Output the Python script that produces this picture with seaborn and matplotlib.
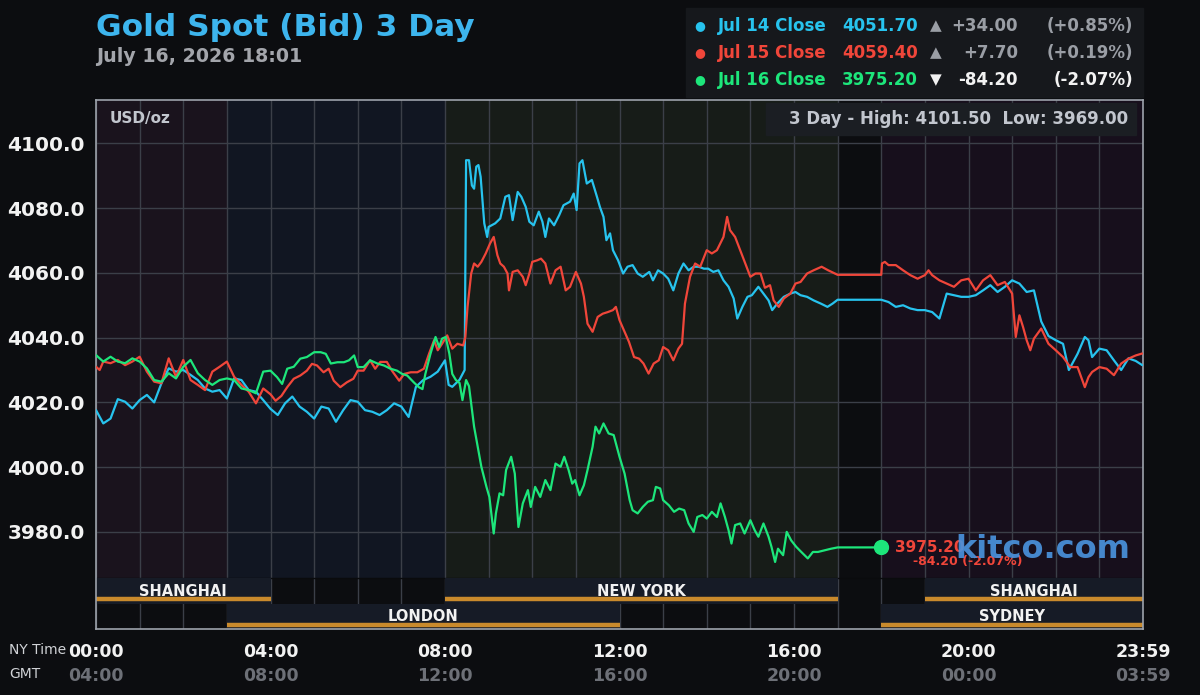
import pandas as pd
import matplotlib.pyplot as plt
import seaborn as sns
from matplotlib.patches import Rectangle
from matplotlib.transforms import blended_transform_factory

# ---- data (NY time, USD/oz) ----
jul14_times = ['00:00', '00:10', '00:20', '00:30', '00:40', '00:50', '01:00', '01:10', '01:20', '01:30',
               '01:40', '01:50', '02:00', '02:10', '02:20', '02:30', '02:40', '02:50', '03:00', '03:10',
               '03:20', '03:30', '03:40', '03:50', '04:00', '04:10', '04:20', '04:30', '04:40', '04:50',
               '05:00', '05:10', '05:20', '05:30', '05:40', '05:50', '06:00', '06:10', '06:20', '06:30',
               '06:40', '06:50', '07:00', '07:10', '07:20', '07:30', '07:40', '07:50', '08:00', '08:05',
               '08:10', '08:20', '08:27', '08:29', '08:33', '08:37', '08:40', '08:43', '08:46', '08:49',
               '08:54', '08:58', '09:00', '09:09', '09:16', '09:23', '09:28', '09:33', '09:40', '09:45',
               '09:51', '09:56', '10:02', '10:09', '10:14', '10:18', '10:23', '10:30', '10:37', '10:43',
               '10:52', '10:57', '11:01', '11:05', '11:09', '11:15', '11:22', '11:29', '11:33', '11:38',
               '11:42', '11:47', '11:51', '11:58', '12:05', '12:11', '12:18', '12:25', '12:32', '12:41',
               '12:46', '12:53', '13:00', '13:07', '13:14', '13:21', '13:28', '13:35', '13:42', '13:49',
               '13:56', '14:02', '14:09', '14:16', '14:23', '14:30', '14:37', '14:42', '14:49', '14:56',
               '15:02', '15:11', '15:18', '15:25', '15:30', '15:37', '15:46', '15:55', '16:02', '16:09',
               '16:18', '16:27', '16:37', '16:46', '16:53', '17:00', '18:00', '18:10', '18:20', '18:30',
               '18:40', '18:50', '19:00', '19:10', '19:20', '19:30', '19:40', '19:50', '20:00', '20:10',
               '20:20', '20:30', '20:40', '20:50', '21:00', '21:10', '21:20', '21:30', '21:40', '21:50',
               '22:00', '22:10', '22:18', '22:30', '22:40', '22:45', '22:50', '23:00', '23:10', '23:20',
               '23:30', '23:40', '23:50', '23:59']
jul14_prices = [4017.6, 4013.5, 4015.0, 4021.0, 4020.2, 4018.1, 4020.7, 4022.3, 4020.0, 4025.9,
                4030.5, 4029.5, 4030.0, 4028.5, 4026.9, 4024.3, 4023.3, 4023.8, 4021.2, 4027.4,
                4026.9, 4023.8, 4023.3, 4020.7, 4018.0, 4016.1, 4019.7, 4021.8, 4018.7, 4017.1,
                4015.0, 4018.7, 4018.1, 4014.0, 4017.6, 4020.7, 4020.2, 4017.6, 4017.1, 4016.1,
                4017.6, 4019.7, 4018.7, 4015.5, 4024.8, 4026.9, 4027.9, 4029.5, 4033.0, 4025.4,
                4024.8, 4027.0, 4030.0, 4094.8, 4094.8, 4087.0, 4086.0, 4092.8, 4093.3, 4089.7,
                4075.3, 4071.1, 4074.2, 4075.3, 4076.8, 4083.5, 4084.0, 4076.3, 4085.0, 4083.5,
                4080.4, 4075.8, 4074.7, 4078.9, 4075.8, 4071.1, 4076.8, 4074.7, 4077.8, 4080.9,
                4082.0, 4084.5, 4079.4, 4093.8, 4094.8, 4087.6, 4088.7, 4083.5, 4080.4, 4077.3,
                4070.1, 4072.2, 4067.0, 4063.9, 4059.8, 4061.9, 4062.4, 4059.8, 4058.8, 4060.3,
                4057.7, 4060.8, 4059.8, 4058.2, 4054.6, 4059.8, 4062.9, 4060.8, 4061.9, 4061.9,
                4061.3, 4061.3, 4060.3, 4060.8, 4057.7, 4055.7, 4052.1, 4045.9, 4049.5, 4052.6,
                4053.1, 4055.7, 4053.6, 4051.5, 4048.5, 4050.5, 4052.6, 4053.6, 4054.1, 4053.1,
                4052.6, 4051.5, 4050.5, 4049.5, 4050.5, 4051.7, 4051.7, 4051.0, 4049.5, 4050.0,
                4049.0, 4048.5, 4048.5, 4047.9, 4045.9, 4053.6, 4053.1, 4052.6, 4052.6, 4053.1,
                4054.6, 4056.2, 4054.1, 4055.7, 4057.7, 4056.7, 4054.1, 4054.6, 4045.0, 4040.5,
                4039.2, 4038.1, 4030.0, 4035.0, 4040.2, 4039.2, 4034.0, 4036.6, 4036.1, 4033.0,
                4030.0, 4033.6, 4032.8, 4031.5]

jul15_times = ['00:00', '00:05', '00:10', '00:20', '00:30', '00:40', '00:50', '01:00', '01:10', '01:20',
               '01:30', '01:40', '01:50', '02:00', '02:10', '02:20', '02:30', '02:40', '02:50', '03:00',
               '03:10', '03:20', '03:30', '03:40', '03:50', '04:00', '04:07', '04:15', '04:23', '04:32',
               '04:41', '04:50', '04:57', '05:04', '05:13', '05:20', '05:27', '05:36', '05:45', '05:54',
               '06:00', '06:08', '06:17', '06:24', '06:31', '06:40', '06:47', '06:57', '07:04', '07:13',
               '07:22', '07:31', '07:38', '07:45', '07:50', '07:56', '08:03', '08:10', '08:17', '08:25',
               '08:28', '08:31', '08:36', '08:40', '08:45', '08:50', '08:56', '09:02', '09:07', '09:12',
               '09:16', '09:21', '09:26', '09:28', '09:33', '09:40', '09:47', '09:51', '09:56', '10:00',
               '10:07', '10:12', '10:18', '10:25', '10:32', '10:39', '10:46', '10:52', '11:00', '11:07',
               '11:11', '11:16', '11:23', '11:30', '11:37', '11:44', '11:51', '11:55', '12:00', '12:06',
               '12:13', '12:20', '12:27', '12:33', '12:40', '12:47', '12:54', '13:00', '13:07', '13:14',
               '13:21', '13:26', '13:30', '13:37', '13:44', '13:51', '14:00', '14:07', '14:14', '14:23',
               '14:28', '14:32', '14:39', '14:46', '14:53', '15:00', '15:07', '15:14', '15:20', '15:27',
               '15:32', '15:39', '15:46', '15:55', '16:02', '16:09', '16:18', '16:27', '16:38', '16:47',
               '17:00', '18:00', '18:01', '18:05', '18:10', '18:20', '18:30', '18:40', '18:50', '19:00',
               '19:05', '19:10', '19:20', '19:30', '19:40', '19:50', '20:00', '20:10', '20:20', '20:30',
               '20:40', '20:50', '21:00', '21:05', '21:10', '21:15', '21:20', '21:25', '21:30', '21:40',
               '21:50', '22:00', '22:10', '22:20', '22:30', '22:40', '22:45', '22:50', '23:00', '23:10',
               '23:20', '23:30', '23:40', '23:50', '23:59']
jul15_prices = [4031.0, 4030.0, 4032.6, 4032.1, 4033.1, 4031.5, 4032.6, 4034.1, 4029.5, 4026.4,
                4025.9, 4033.6, 4027.9, 4033.1, 4026.9, 4025.4, 4023.8, 4029.5, 4031.0, 4032.6,
                4027.9, 4025.4, 4023.3, 4019.7, 4024.3, 4022.5, 4020.5, 4022.0, 4024.7, 4027.3,
                4028.3, 4029.8, 4031.9, 4031.4, 4029.3, 4030.4, 4026.7, 4024.7, 4026.2, 4027.3,
                4029.8, 4029.8, 4033.0, 4030.4, 4032.5, 4032.5, 4029.8, 4026.7, 4028.8, 4029.3,
                4029.3, 4030.4, 4035.0, 4039.2, 4036.1, 4038.1, 4040.7, 4036.6, 4038.1, 4037.6,
                4040.2, 4049.5, 4059.8, 4062.9, 4061.9, 4063.4, 4066.0, 4069.1, 4071.1, 4065.5,
                4062.9, 4061.9, 4059.8, 4054.6, 4060.3, 4060.8, 4058.8, 4056.2, 4059.8, 4063.4,
                4063.9, 4064.4, 4062.9, 4056.7, 4060.8, 4061.9, 4054.6, 4055.7, 4060.3, 4056.7,
                4052.6, 4044.3, 4041.8, 4046.4, 4047.4, 4047.9, 4048.5, 4049.5, 4045.4, 4042.3,
                4038.7, 4034.0, 4033.5, 4032.0, 4028.9, 4032.0, 4033.0, 4037.1, 4036.1, 4033.0,
                4036.6, 4038.1, 4050.5, 4058.8, 4062.9, 4061.9, 4067.0, 4066.0, 4067.0, 4071.1,
                4077.3, 4073.2, 4071.1, 4067.0, 4062.9, 4058.8, 4059.8, 4059.8, 4055.4, 4056.2,
                4051.5, 4049.5, 4052.1, 4053.6, 4056.7, 4057.2, 4059.8, 4060.8, 4061.9, 4060.8,
                4059.4, 4059.4, 4062.9, 4063.4, 4062.4, 4062.4, 4060.8, 4059.3, 4058.2, 4059.3,
                4060.8, 4059.3, 4057.7, 4056.7, 4055.7, 4057.7, 4058.2, 4054.6, 4057.7, 4059.3,
                4056.2, 4057.2, 4053.6, 4040.2, 4046.9, 4043.3, 4039.2, 4036.1, 4039.7, 4042.8,
                4038.1, 4036.1, 4034.0, 4030.9, 4030.9, 4024.7, 4027.8, 4029.4, 4030.9, 4030.4,
                4028.4, 4032.0, 4033.5, 4034.5, 4035.1]

jul16_times = ['00:00', '00:10', '00:20', '00:30', '00:40', '00:50', '01:00', '01:10', '01:20', '01:30',
               '01:40', '01:50', '02:00', '02:10', '02:20', '02:30', '02:40', '02:50', '03:00', '03:10',
               '03:20', '03:30', '03:40', '03:50', '04:00', '04:09', '04:16', '04:23', '04:32', '04:41',
               '04:50', '05:00', '05:09', '05:16', '05:23', '05:32', '05:41', '05:48', '05:55', '06:00',
               '06:08', '06:17', '06:27', '06:36', '06:45', '06:54', '07:01', '07:08', '07:17', '07:24',
               '07:29', '07:33', '07:40', '07:47', '07:52', '07:56', '08:01', '08:06', '08:10', '08:15',
               '08:20', '08:24', '08:29', '08:33', '08:36', '08:40', '08:45', '08:50', '08:57', '09:01',
               '09:07', '09:10', '09:15', '09:20', '09:24', '09:31', '09:36', '09:41', '09:47', '09:54',
               '09:58', '10:04', '10:11', '10:18', '10:25', '10:32', '10:39', '10:44', '10:50', '10:55',
               '10:59', '11:05', '11:11', '11:16', '11:23', '11:27', '11:32', '11:38', '11:45', '11:52',
               '12:00', '12:07', '12:14', '12:18', '12:25', '12:32', '12:39', '12:46', '12:50', '12:56',
               '13:00', '13:08', '13:15', '13:22', '13:29', '13:35', '13:42', '13:47', '13:54', '14:00',
               '14:07', '14:14', '14:19', '14:25', '14:30', '14:34', '14:39', '14:46', '14:52', '15:00',
               '15:06', '15:11', '15:18', '15:25', '15:29', '15:34', '15:38', '15:45', '15:50', '15:56',
               '16:03', '16:10', '16:19', '16:26', '16:33', '16:42', '16:51', '17:00', '18:00']
jul16_prices = [4034.6, 4032.6, 4034.1, 4032.6, 4032.1, 4033.6, 4032.6, 4030.5, 4026.9, 4026.4,
                4029.0, 4027.4, 4031.0, 4033.1, 4029.0, 4026.9, 4025.4, 4026.9, 4027.4, 4026.9,
                4024.3, 4023.8, 4022.8, 4029.5, 4029.8, 4027.8, 4025.7, 4030.4, 4031.0, 4033.5,
                4034.0, 4035.5, 4035.5, 4035.0, 4032.0, 4032.4, 4032.4, 4033.0, 4034.5, 4030.9,
                4030.9, 4033.0, 4032.0, 4031.4, 4030.4, 4029.8, 4028.8, 4028.3, 4026.2, 4024.7,
                4024.1, 4028.8, 4035.0, 4040.2, 4037.1, 4039.7, 4040.2, 4035.0, 4028.8, 4026.9,
                4026.0, 4020.7, 4026.9, 4025.0, 4019.7, 4012.5, 4006.3, 4000.1, 3993.9, 3990.8,
                3979.5, 3985.7, 3991.9, 3991.3, 3999.1, 4003.2, 3998.0, 3981.5, 3988.8, 3992.9,
                3987.7, 3993.9, 3990.8, 3996.0, 3992.9, 4001.1, 4000.1, 4003.2, 3999.1, 3994.9,
                3996.0, 3991.3, 3994.4, 3999.1, 4006.3, 4012.5, 4010.4, 4013.5, 4010.4, 4009.9,
                4003.2, 3998.0, 3989.8, 3986.7, 3985.7, 3987.7, 3989.3, 3989.8, 3993.9, 3993.4,
                3989.8, 3988.2, 3986.2, 3987.2, 3986.7, 3982.6, 3980.0, 3984.6, 3985.2, 3984.1,
                3986.2, 3984.6, 3988.8, 3984.6, 3980.5, 3976.4, 3982.1, 3982.6, 3979.5, 3983.6,
                3980.5, 3978.5, 3982.6, 3978.5, 3975.4, 3970.7, 3974.8, 3972.8, 3980.0, 3977.4,
                3975.4, 3973.8, 3971.8, 3973.8, 3973.8, 3974.3, 3974.8, 3975.2, 3975.2]

series_names = ['Jul 14', 'Jul 15', 'Jul 16']
series_colors = ['#27c3ee', '#f0463a', '#1de67b']

legend_labels = ['Jul 14 Close', 'Jul 15 Close', 'Jul 16 Close']
legend_close = ['4051.70', '4059.40', '3975.20']
legend_change = ['+34.00', '+7.70', '-84.20']
legend_pct = ['(+0.85%)', '(+0.19%)', '(-2.07%)']
legend_up = [True, True, False]

# trading sessions (NY hours); row 0 = upper strip
session_names = ['SHANGHAI', 'LONDON', 'NEW YORK', 'SYDNEY', 'SHANGHAI']
session_start = [0, 3, 8, 18, 19]
session_end = [4, 12, 17, 24, 24]
session_row = [0, 1, 0, 1, 0]

# chart background bands
band_start = [0, 3, 8, 17, 18]
band_end = [3, 8, 17, 18, 24]
band_colors = ['#1a131d', '#111622', '#171c18', '#0c0d10', '#170f1c']

ny_ticks = [0, 4, 8, 12, 16, 20, 24]
ny_labels = ['00:00', '04:00', '08:00', '12:00', '16:00', '20:00', '23:59']
gmt_labels = ['04:00', '08:00', '12:00', '16:00', '20:00', '00:00', '03:59']
y_ticks = [3980, 4000, 4020, 4040, 4060, 4080, 4100]


def to_hours(ts):
    return [int(t[:2]) + int(t[3:]) / 60 for t in ts]


frames = []
for name, ts, ps in zip(series_names, [jul14_times, jul15_times, jul16_times],
                        [jul14_prices, jul15_prices, jul16_prices]):
    frames.append(pd.DataFrame({'hour': to_hours(ts), 'price': ps, 'day': name}))
df = pd.concat(frames, ignore_index=True)

# ---- style ----
BG = '#0c0d10'
sns.set_style('dark', {'axes.facecolor': BG, 'figure.facecolor': BG})
plt.rcParams['font.family'] = ['DejaVu Sans']

fig = plt.figure(figsize=(12, 6.95), dpi=100)
W, H = 1200, 695


def fx(x):
    return x / W


def fy(y):
    return 1 - y / H


ax = fig.add_axes([fx(96), fy(629), fx(1143) - fx(96), fy(100) - fy(629)])
ax.set_facecolor(BG)

y_lo, y_hi = 3950.0, 4113.4
price_floor = 3965.7     # top of the session strips
row_split = 3957.85
ax.set_xlim(0, 24)
ax.set_ylim(y_lo, y_hi)

# background bands in price area
for s, e, c in zip(band_start, band_end, band_colors):
    ax.add_patch(Rectangle((s, price_floor), e - s, y_hi - price_floor, color=c, zorder=0.1, lw=0))

# session strips
row_bounds = [(row_split, price_floor), (y_lo, row_split)]
for name, s, e, r in zip(session_names, session_start, session_end, session_row):
    lo, hi = row_bounds[r]
    ax.add_patch(Rectangle((s, lo), e - s, hi - lo, color='#161b26', zorder=1.5, lw=0))
    ax.plot([s, e], [lo + 1.35, lo + 1.35], color='#c98a2c', lw=3.2, solid_capstyle='butt', zorder=1.6)
    ax.text((s + e) / 2, (lo + hi) / 2 - 0.1, name, color='#f2f2f2', fontsize=10.5,
            fontweight='bold', ha='center', va='center', zorder=1.7)
ax.axhline(price_floor, color='#0a0b0d', lw=1, zorder=1.4)

# grid
ax.set_xticks(range(0, 25))
ax.set_yticks(y_ticks)
ax.grid(True, color='#3b3f48', lw=1)
ax.set_axisbelow(True)
ax.set_xticklabels([])
ax.set_yticklabels([f'{v:.1f}' for v in y_ticks], color='#f2f2f2', fontsize=14.5, fontweight='bold')
ax.tick_params(length=0, pad=8)
for sp in ax.spines.values():
    sp.set_visible(True)
    sp.set_color('#9da2ab')
    sp.set_linewidth(1.2)

# price lines
sns.lineplot(data=df, x='hour', y='price', hue='day', palette=series_colors,
             estimator=None, sort=False, linewidth=1.6, legend=False, ax=ax, zorder=3)
ax.set_xlabel('')
ax.set_ylabel('')

# last-price marker
last_h = to_hours(jul16_times)[-1]
last_p = jul16_prices[-1]
ax.plot(last_h, last_p, 'o', color=series_colors[2], ms=10, zorder=5)
ax.annotate(legend_close[2], (last_h, last_p), xytext=(10, 0), textcoords='offset points',
            color=series_colors[1], fontsize=11, fontweight='bold', va='center', zorder=5)
ax.annotate(f'{legend_change[2]} {legend_pct[2]}', (last_h, last_p), xytext=(23, -10),
            textcoords='offset points', color=series_colors[1], fontsize=9, fontweight='bold',
            va='center', zorder=5)
fig.text(fx(955), fy(550), 'kitco.com', color='#4a92dc', alpha=0.92, fontsize=23,
         fontweight='bold', va='center', ha='left', zorder=10)

# axis captions inside chart
fig.text(fx(110), fy(119), 'USD/oz', color='#c2c6ce', fontsize=11, fontweight='bold', va='center')
fig.patches.append(Rectangle((fx(766), fy(135)), fx(1136) - fx(766), fy(103) - fy(135),
                             transform=fig.transFigure, color='#1b1e23', zorder=2))
fig.text(fx(1128), fy(119), '3 Day - High: 4101.50  Low: 3969.00', color='#c2c6ce', fontsize=12,
         fontweight='bold', va='center', ha='right', zorder=3)

# x labels: NY time and GMT rows
tr = blended_transform_factory(ax.transData, fig.transFigure)
for t, a, b in zip(ny_ticks, ny_labels, gmt_labels):
    ax.text(t, fy(652), a, transform=tr, color='#f2f2f2', fontsize=12.5, fontweight='bold',
            ha='center', va='center')
    ax.text(t, fy(676), b, transform=tr, color='#6d7077', fontsize=12.5, fontweight='bold',
            ha='center', va='center')
fig.text(fx(9), fy(650), 'NY Time', color='#d0d2d6', fontsize=10, va='center')
fig.text(fx(9), fy(674), 'GMT', color='#d0d2d6', fontsize=10, va='center')

# title
fig.text(fx(96), fy(28), 'Gold Spot (Bid) 3 Day', color='#3db5ee', fontsize=22.5, fontweight='bold',
         va='center')
fig.text(fx(96), fy(57), 'July 16, 2026 18:01', color='#a3a5ab', fontsize=13.7, fontweight='bold',
         va='center')

# legend box
fig.patches.append(Rectangle((fx(686), fy(97)), fx(1143) - fx(686), fy(8) - fy(97),
                             transform=fig.transFigure, color='#16181c', zorder=0))
for i, (lab, cl, ch, pc, up) in enumerate(zip(legend_labels, legend_close, legend_change,
                                              legend_pct, legend_up)):
    y = fy(26 + 27 * i)
    c = series_colors[i]
    muted = '#9a9ea5' if up else '#f2f2f2'
    fig.text(fx(700), y, '\u25cf', color=c, fontsize=9, ha='center', va='center')
    fig.text(fx(718), y, lab, color=c, fontsize=12, fontweight='bold', va='center')
    fig.text(fx(918), y, cl, color=c, fontsize=12, fontweight='bold', va='center', ha='right')
    fig.text(fx(936), y, '\u25b2' if up else '\u25bc', color=muted, fontsize=11, va='center', ha='center')
    fig.text(fx(1018), y, ch, color=muted, fontsize=12, fontweight='bold', va='center', ha='right')
    fig.text(fx(1133), y, pc, color=muted, fontsize=12, fontweight='bold', va='center', ha='right')

fig.savefig('out.png', dpi=100, facecolor=BG)
